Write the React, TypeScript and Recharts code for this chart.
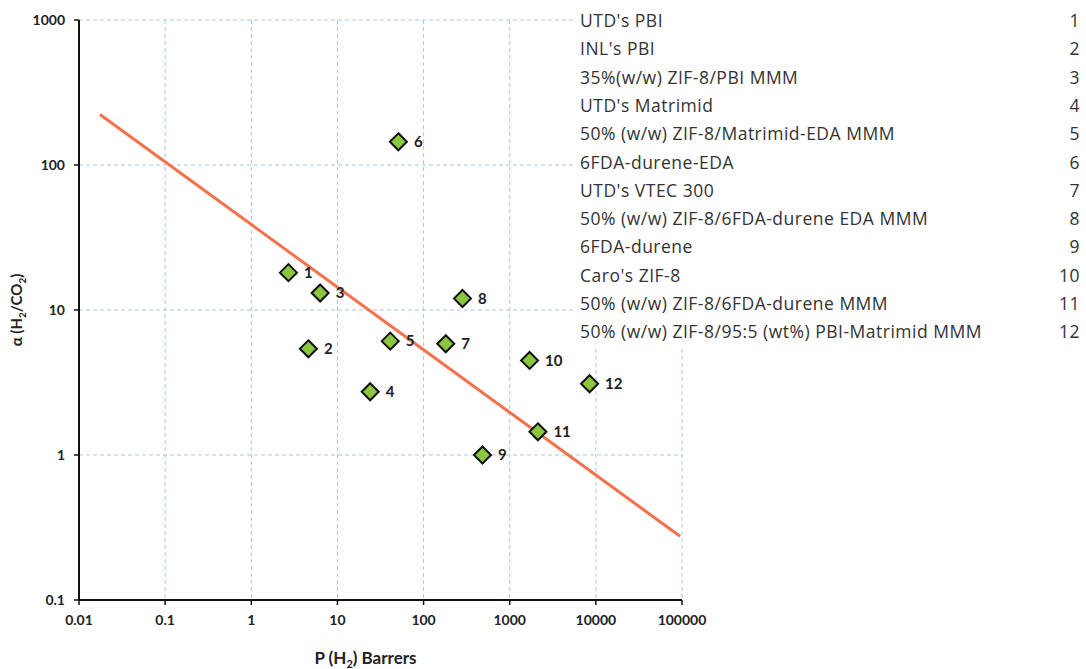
import React from "react";
import {
  ScatterChart,
  Scatter,
  XAxis,
  YAxis,
  CartesianGrid,
  LabelList,
  Customized,
} from "recharts";

const pointIds = ["1", "2", "3", "4", "5", "6", "7", "8", "9", "10", "11", "12"];
const permeabilityH2 = [2.7, 4.6, 6.3, 24, 41, 51, 181, 283, 483, 1700, 2125, 8450];
const selectivity = [18.1, 5.4, 13.1, 2.73, 6.1, 144.5, 5.85, 12.0, 1.0, 4.49, 1.445, 3.1];

const materialNames = [
  "UTD's PBI",
  "INL's PBI",
  "35%(w/w) ZIF-8/PBI MMM",
  "UTD's Matrimid",
  "50% (w/w) ZIF-8/Matrimid-EDA MMM",
  "6FDA-durene-EDA",
  "UTD's VTEC 300",
  "50% (w/w) ZIF-8/6FDA-durene EDA MMM",
  "6FDA-durene",
  "Caro's ZIF-8",
  "50% (w/w) ZIF-8/6FDA-durene MMM",
  "50% (w/w) ZIF-8/95:5 (wt%) PBI-Matrimid MMM",
];

const trendX = [0.0175, 95000];
const trendY = [223, 0.275];

const xTicks = [0.01, 0.1, 1, 10, 100, 1000, 10000, 100000];
const yTicks = [0.1, 1, 10, 100, 1000];

const points = pointIds.map((id, i) => ({ id, x: permeabilityH2[i], y: selectivity[i] }));
const trend = trendX.map((x, i) => ({ x, y: trendY[i] }));

const FONT = "Lato, 'Liberation Sans', sans-serif";
const TABLE_FONT = "'Open Sans', 'Liberation Sans', sans-serif";

const Diamond = (props: any) => {
  const { cx, cy } = props;
  if (cx == null || cy == null) return <g />;
  const r = 8.5;
  return (
    <polygon
      points={`${cx},${cy - r} ${cx + r},${cy} ${cx},${cy + r} ${cx - r},${cy}`}
      fill="#8CC63F"
      stroke="#111"
      strokeWidth={2}
    />
  );
};

const NoShape = () => <g />;

const AxisTitles = (props: any) => {
  const off = props.offset || {};
  const left = off.left ?? 79;
  const width = off.width ?? 603;
  const top = off.top ?? 20;
  const height = off.height ?? 580;
  const cxTitle = left + width / 2 - 15;
  return (
    <g fontFamily={FONT} fontWeight={700} fill="#222">
      <text x={cxTitle} y={top + height + 64} textAnchor="middle" fontSize={17}>
        P (H
        <tspan fontSize={11} dy={4}>2</tspan>
        <tspan dy={-4}>) Barrers</tspan>
      </text>
      <text
        x={0}
        y={0}
        transform={`translate(22, ${top + height / 2}) rotate(-90)`}
        textAnchor="middle"
        fontSize={15}
      >
        α (H
        <tspan fontSize={10} dy={4}>2</tspan>
        <tspan dy={-4}>/CO</tspan>
        <tspan fontSize={10} dy={4}>2</tspan>
        <tspan dy={-4}>)</tspan>
      </text>
    </g>
  );
};

const fmt = (v: number) => String(v);

export default function App() {
  return (
    <div style={{ position: "absolute", left: 0, top: 0, width: 1086, height: 669, overflow: "hidden" }}>
      <ScatterChart
        width={1086}
        height={669}
        margin={{ top: 20, right: 404, bottom: 39, left: 0 }}
      >
        <CartesianGrid stroke="#A8CADD" strokeDasharray="4 3" strokeWidth={1} />
        <XAxis
          type="number"
          dataKey="x"
          scale="log"
          domain={[0.01, 100000]}
          ticks={xTicks}
          tickFormatter={fmt}
          allowDataOverflow
          height={30}
          axisLine={{ stroke: "#111", strokeWidth: 2 }}
          tickLine={{ stroke: "#111", strokeWidth: 1.5 }}
          tickSize={5}
          tickMargin={10}
          tick={{ fill: "#222", fontSize: 14, fontWeight: 700, fontFamily: FONT }}
        />
        <YAxis
          type="number"
          dataKey="y"
          scale="log"
          domain={[0.1, 1000]}
          ticks={yTicks}
          tickFormatter={fmt}
          allowDataOverflow
          width={79}
          axisLine={{ stroke: "#111", strokeWidth: 2 }}
          tickLine={{ stroke: "#111", strokeWidth: 1.5 }}
          tickSize={5}
          tickMargin={9}
          tick={{ fill: "#222", fontSize: 14, fontWeight: 700, fontFamily: FONT }}
        />
        <Scatter
          data={trend}
          line={{ stroke: "#F4714C", strokeWidth: 3 }}
          lineType="joint"
          shape={NoShape}
          isAnimationActive={false}
        />
        <Scatter data={points} shape={Diamond} isAnimationActive={false}>
          <LabelList
            dataKey="id"
            position="right"
            offset={11}
            fill="#222"
            fontSize={15}
            fontWeight={700}
            fontFamily={FONT}
          />
        </Scatter>
        <Customized component={AxisTitles} />
      </ScatterChart>
      <div
        style={{
          position: "absolute",
          left: 576,
          top: 4,
          width: 510,
          height: 342,
          background: "#fff",
          fontFamily: TABLE_FONT,
          fontSize: 17.5,
          letterSpacing: 0.5,
          color: "#333",
        }}
      >
        {materialNames.map((name, i) => (
          <div
            key={name}
            style={{
              position: "absolute",
              left: 4,
              right: 6,
              top: 2 + i * 28.3,
              height: 28,
              lineHeight: "28px",
              display: "flex",
              justifyContent: "space-between",
              whiteSpace: "nowrap",
            }}
          >
            <span>{name}</span>
            <span>{pointIds[i]}</span>
          </div>
        ))}
      </div>
    </div>
  );
}
